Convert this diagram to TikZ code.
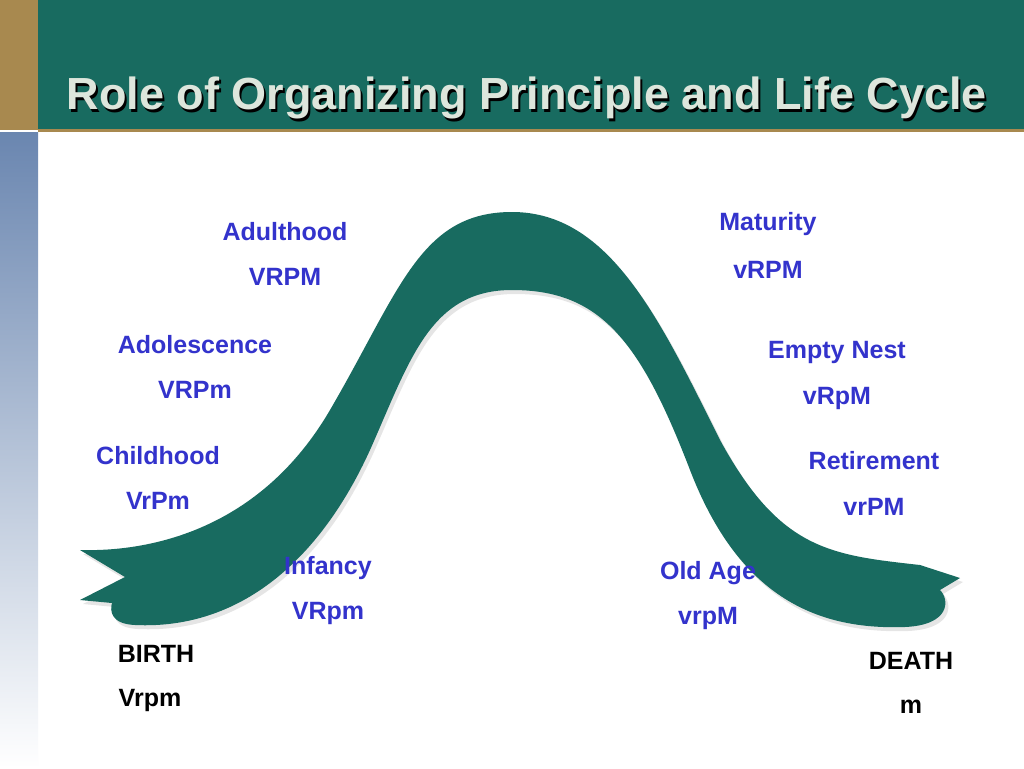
\documentclass[tikz,border=0pt]{standalone}
\usepackage{fontspec}
\setmainfont{Liberation Sans}
\usetikzlibrary{shadows}
\definecolor{teal}{HTML}{186B60}
\definecolor{gold}{HTML}{A8894F}
\definecolor{lab}{HTML}{3333CC}
\definecolor{bar}{HTML}{6A86B0}
\tikzset{lbl/.style={font=\bfseries\fontsize{25}{30}\selectfont, text=lab, inner sep=0pt},
 blk/.style={font=\bfseries\fontsize{25}{30}\selectfont, text=black, inner sep=0pt}}
\begin{document}
\begin{tikzpicture}[x=1pt,y=-1pt]
\useasboundingbox (0,0) rectangle (1024,768);
\fill[white] (0,0) rectangle (1024,768);
\fill[teal] (0,0) rectangle (1024,130);
\fill[gold] (0,0) rectangle (38,130);
\fill[gold] (38,129) rectangle (1024,132);
\shade[top color=bar, bottom color=white] (0,132) rectangle (38,768);
\node[font=\bfseries\fontsize{45}{52}\selectfont, text=black, anchor=west] at (65,101) {Role of Organizing Principle and Life Cycle};
\node[font=\bfseries\fontsize{45}{52}\selectfont, text={rgb,255:red,221;green,230;blue,220}, anchor=west] (title) at (63,98) {Role of Organizing Principle and Life Cycle};
% band
\fill[teal, drop shadow={opacity=0.2,shadow xshift=3pt,shadow yshift=-4pt}]
 (80,550) .. controls (150,552) and (260,530) .. (330,410)
 .. controls (400,290) and (420,212) .. (512,212)
 .. controls (610,212) and (660,320) .. (720,440)
 .. controls (780,550) and (830,555) .. (920,565)
 -- (960,578) -- (940,590)
 .. controls (950,600) and (950,625) .. (905,627)
 .. controls (820,630) and (740,600) .. (690,470)
 .. controls (640,340) and (600,290) .. (512,290)
 .. controls (430,290) and (410,360) .. (370,450)
 .. controls (320,560) and (240,630) .. (135,625)
 .. controls (110,624) and (110,610) .. (112,603)
 -- (80,600) -- (125,577) -- cycle;
\node[lbl] (adult) at (285,232) {Adulthood};
\node[lbl] (adultc) at (285,277) {VRPM};
\node[lbl] (adol) at (195,345) {Adolescence};
\node[lbl] (adolc) at (195,390) {VRPm};
\node[lbl] (child) at (158,456) {Childhood};
\node[lbl] (childc) at (158,501) {VrPm};
\node[lbl] (inf) at (328,568) {Infancy};
\node[lbl] (infc) at (328,613) {VRpm};
\node[lbl] (mat) at (768,224) {Maturity};
\node[lbl] (matc) at (768,270) {vRPM};
\node[lbl] (empty) at (837,352) {Empty Nest};
\node[lbl] (emptyc) at (837,398) {vRpM};
\node[lbl] (ret) at (874,461) {Retirement};
\node[lbl] (retc) at (874,507) {vrPM};
\node[lbl] (old) at (708,573) {Old Age};
\node[lbl] (oldc) at (708,618) {vrpM};
\node[blk] (birth) at (156,654) {BIRTH};
\node[blk] (birthc) at (150,700) {Vrpm};
\node[blk] (death) at (911,661) {DEATH};
\node[blk] (deathc) at (911,707) {m};
\end{tikzpicture}
\end{document}
